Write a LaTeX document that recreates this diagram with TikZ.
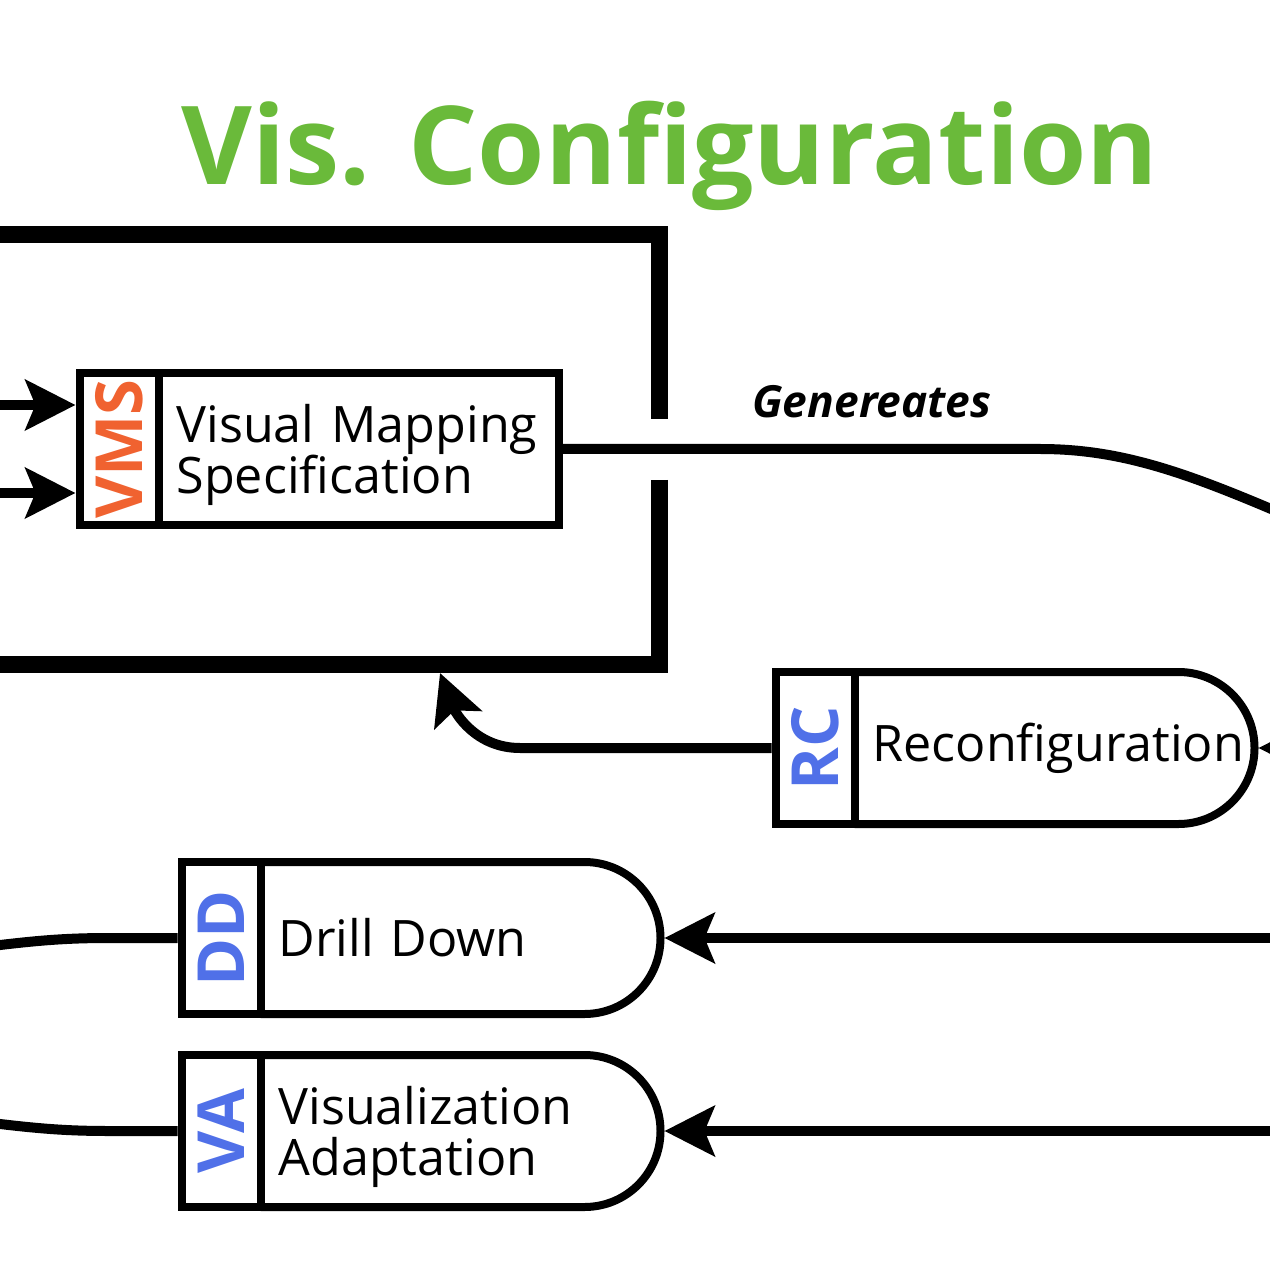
\documentclass[tikz,border=0pt]{standalone}
\usepackage{fontspec}
\setmainfont{Open Sans}
\usetikzlibrary{arrows.meta,positioning}

\definecolor{visgreen}{RGB}{106,186,58}
\definecolor{vmsorange}{RGB}{240,98,48}
\definecolor{opblue}{RGB}{80,112,232}

% outline of an operation body: straight top, round right end, straight bottom
\newcommand{\opoutline}[1]{%
  \draw[opline] (#1.north west) -- ([xshift=-7.6mm]#1.north east)
    arc[start angle=-90, end angle=90, radius=76] -- (#1.south west);}

\begin{document}
\begin{tikzpicture}[
  x=0.1mm, y=-0.1mm,
  >={Stealth[length=5mm, width=5mm, inset=1mm]},
  title/.style={font=\fontsize{31}{37}\selectfont\bfseries, text=visgreen, inner sep=0pt},
  edgelabel/.style={font=\fontsize{12.6}{15}\selectfont\bfseries\itshape, inner sep=0pt},
  tagbox/.style={draw, line width=0.8mm, rectangle, minimum width=7.9mm, minimum height=15.2mm, inner sep=0pt, font=\fontsize{18.5}{20}\selectfont\bfseries},
  specbox/.style={draw, line width=0.8mm, rectangle, minimum width=40mm, minimum height=15.2mm, inner xsep=1.8mm, inner ysep=0pt, text width=36.4mm, align=left, font=\fontsize{14.3}{14.5}\selectfont},
  opbox/.style={specbox, draw=none, outer sep=0pt},
  twolines/.style={text height=5mm},
  opline/.style={line width=0.8mm},
  frame/.style={line width=1.7mm},
  link/.style={line width=1mm},
  arrow/.style={link, ->}
]
  \useasboundingbox (0,0) rectangle (1270,1270);
  \clip (0,0) rectangle (1270,1270);

  % Title
  \node[title, anchor=base] (title) at (670,185) {Vis. Configuration};

  % Configuration frame (open where the mapping leaves)
  \coordinate (frameNW) at (-60,234.5);
  \coordinate (frameNE) at (659,234.5);
  \coordinate (gapN) at (659,419);
  \coordinate (gapS) at (659,480);
  \coordinate (frameSE) at (659,664.5);
  \coordinate (frameSW) at (-60,664.5);
  \draw[frame] (frameNW) -- (frameNE) -- (gapN);
  \draw[frame] (gapS) -- (frameSE) -- (frameSW);

  % Visual mapping specification
  \node[tagbox, text=vmsorange] (vmstag) at (119,449) {\rotatebox{90}{VMS}};
  \node[specbox, twolines, right=-0.8mm of vmstag] (vms) {Visual Mapping\\Specification};

  % Operations
  \node[tagbox, text=opblue] (rctag) at (815,748) {\rotatebox{90}{RC}};
  \node[opbox, right=-0.4mm of rctag] (rc) {\rlap{Reconfiguration}};
  \opoutline{rc}

  \node[tagbox, text=opblue] (ddtag) at (221,938) {\rotatebox{90}{DD}};
  \node[opbox, right=-0.4mm of ddtag] (dd) {Drill Down};
  \opoutline{dd}

  \node[tagbox, text=opblue] (vatag) at (221,1131) {\rotatebox{90}{VA}};
  \node[opbox, twolines, right=-0.4mm of vatag] (va) {Visualization\\Adaptation};
  \opoutline{va}

  % Free ends
  \coordinate (vmsin1) at (-40,405);
  \coordinate (vmsin2) at (-40,493);
  \coordinate (genend) at (1320,530);
  \coordinate (rcin) at (1400,748);
  \coordinate (cfgin) at (440,673);
  \coordinate (ddin) at (1400,938);
  \coordinate (ddout) at (-40,950);
  \coordinate (vain) at (1400,1131);
  \coordinate (vaout) at (-40,1119);

  % Connectors
  \draw[arrow] (vmsin1) -- (vmsin1 -| vmstag.west);
  \draw[arrow] (vmsin2) -- (vmsin2 -| vmstag.west);

  \draw[link] (vms.east) -- (1040,449) .. controls (1130,449) and (1200,478) .. (genend);
  \node[edgelabel, anchor=base] (genlabel) at (872,418) {Genereates};

  \draw[arrow] (rcin) -- ([xshift=0.4mm]rc.east);
  \draw[arrow] (rctag.west) -- (520,748) .. controls (475,748) and (455,712) .. (cfgin);

  \draw[arrow] (ddin) -- ([xshift=0.4mm]dd.east);
  \draw[link] (ddtag.west) -- (110,938) .. controls (60,938) and (30,941) .. (ddout);

  \draw[arrow] (vain) -- ([xshift=0.4mm]va.east);
  \draw[link] (vatag.west) -- (110,1131) .. controls (60,1131) and (30,1128) .. (vaout);

\end{tikzpicture}
\end{document}
